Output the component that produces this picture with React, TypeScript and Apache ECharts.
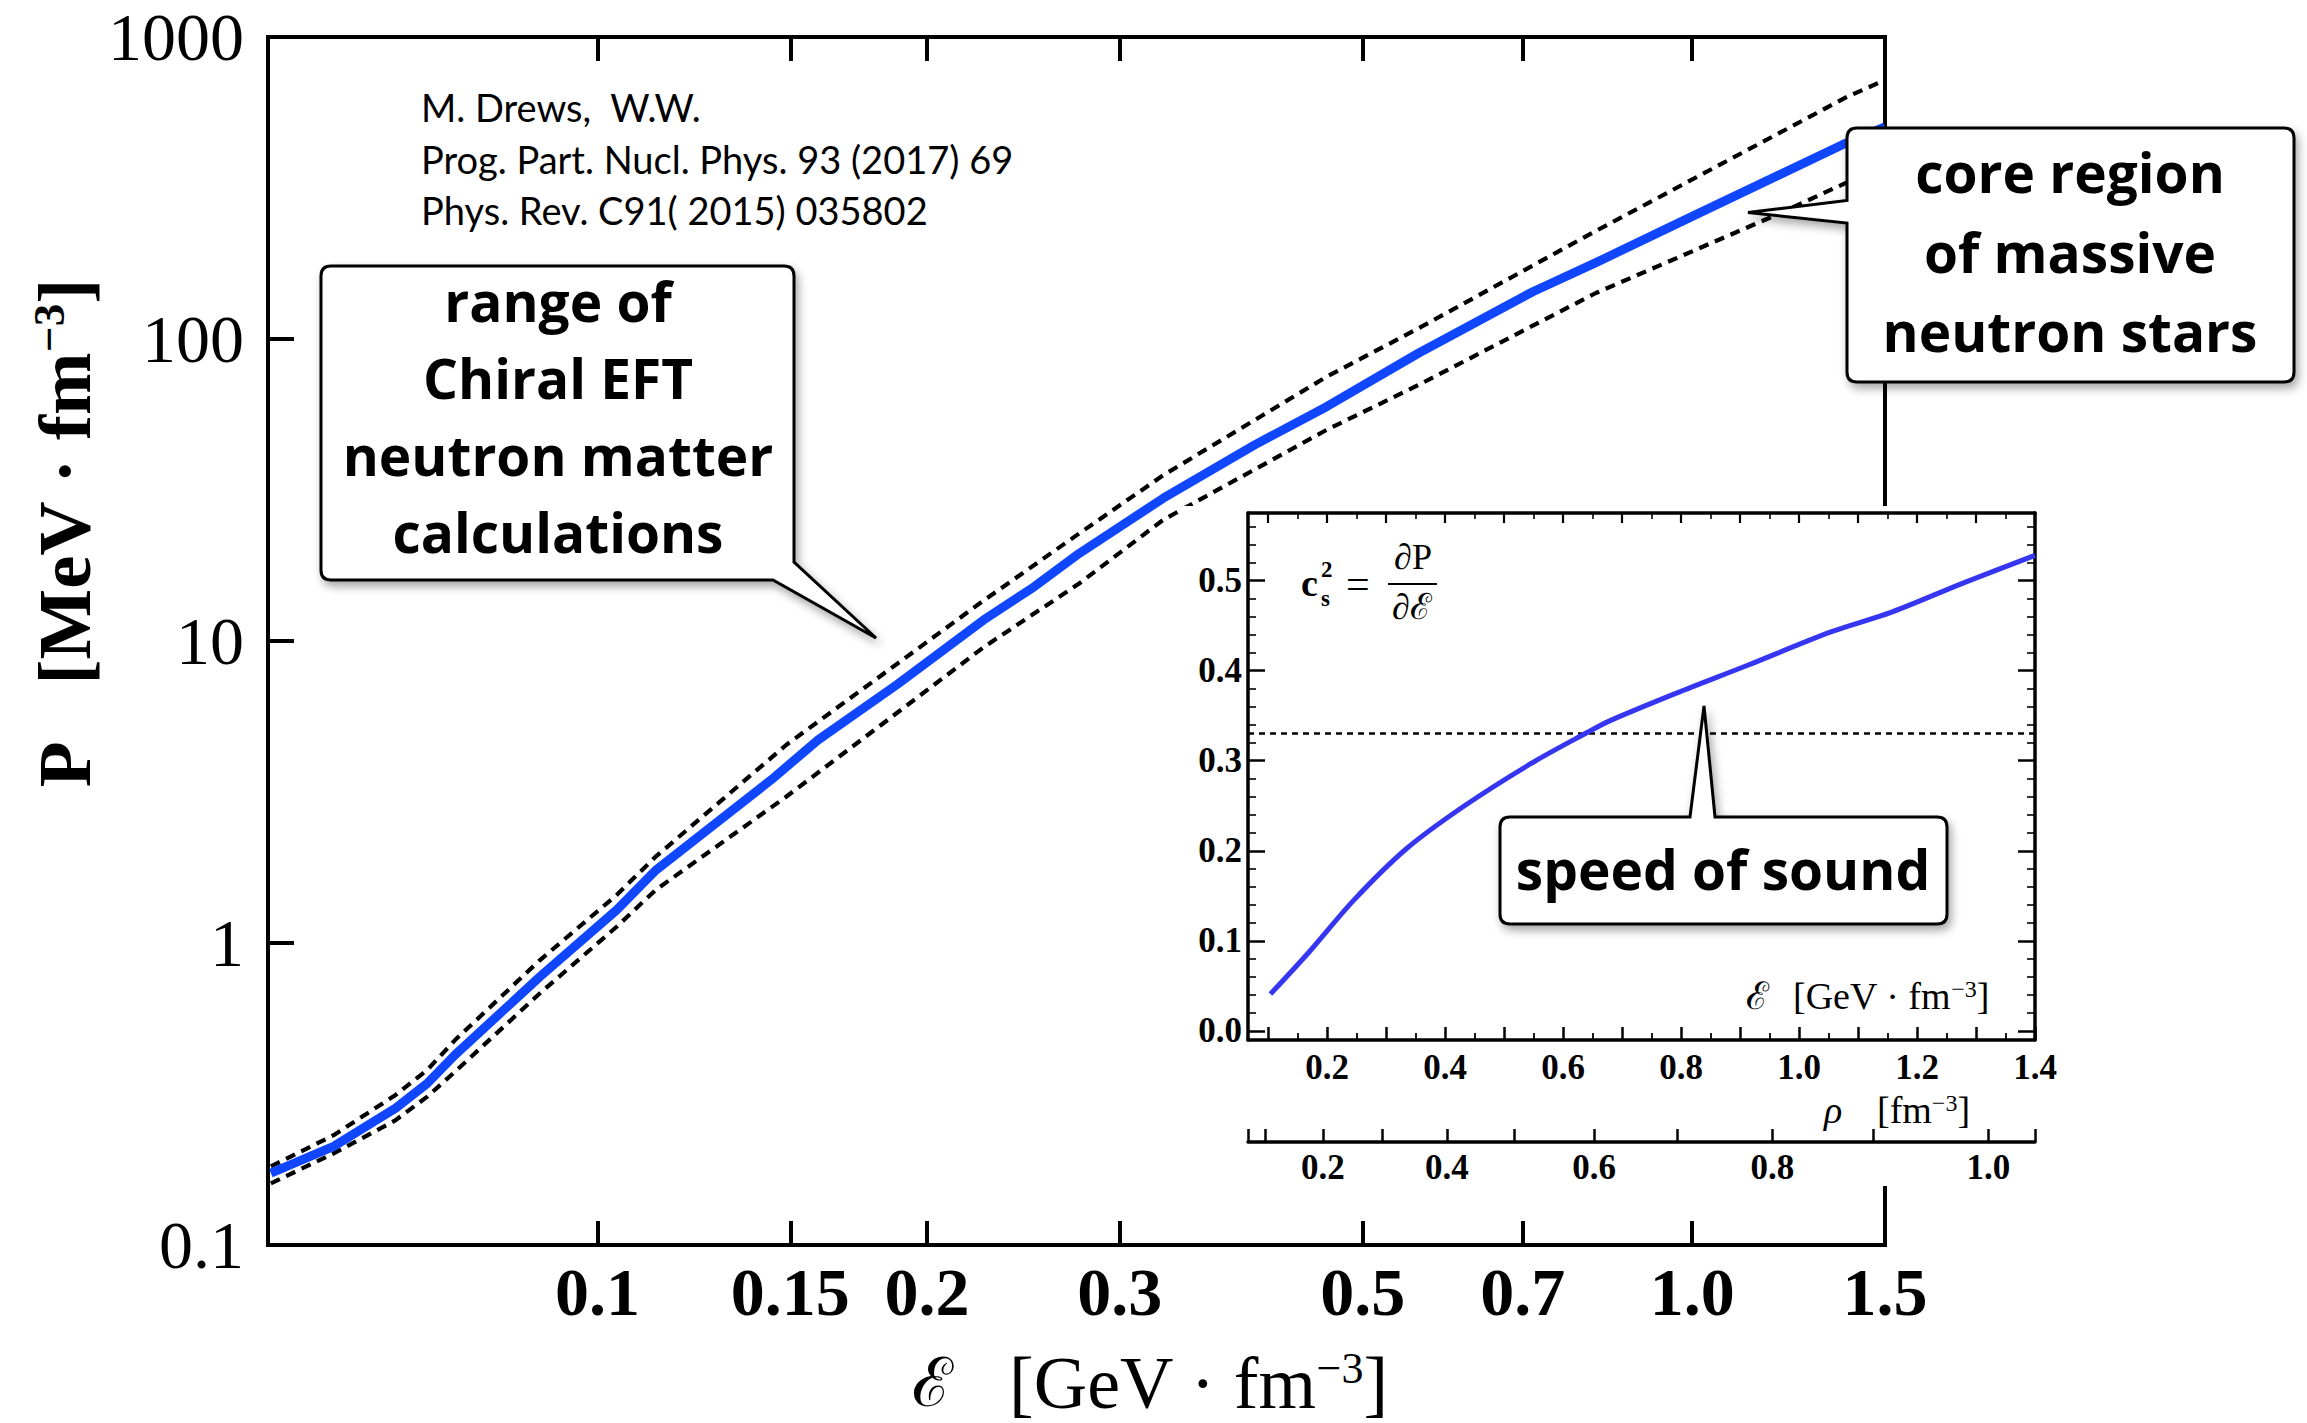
import React, { useEffect, useRef } from 'react';
import * as echarts from 'echarts';

// ---------------- data ----------------
// main panel: pressure P [MeV fm^-3] vs energy density E [GeV fm^-3]
const ENERGY_CENTRAL = [0.0503, 0.0574, 0.0654, 0.0699, 0.0741, 0.0886, 0.1041, 0.113, 0.1441, 0.159, 0.188, 0.2252, 0.2504, 0.2754, 0.3287, 0.3984, 0.4634, 0.5621, 0.7151, 0.8166, 1.0, 1.37, 1.5];
const PRESSURE_CENTRAL = [0.173, 0.212, 0.284, 0.343, 0.426, 0.774, 1.286, 1.74, 3.47, 4.7, 7.2, 11.73, 15.1, 19.5, 29.7, 44.6, 59.7, 89.7, 143.4, 179, 254.8, 439, 504];
const ENERGY_UPPER = [0.0503, 0.0574, 0.0654, 0.0699, 0.0741, 0.0886, 0.1041, 0.113, 0.1487, 0.2256, 0.2754, 0.3287, 0.4634, 0.5621, 0.8166, 1.386, 1.5];
const PRESSURE_UPPER = [0.182, 0.231, 0.314, 0.38, 0.477, 0.878, 1.442, 1.931, 4.525, 13.67, 22.7, 35.4, 75.0, 108.4, 228, 634.5, 720];
const ENERGY_LOWER = [0.0503, 0.0574, 0.0654, 0.0699, 0.0741, 0.0886, 0.1041, 0.113, 0.1487, 0.2256, 0.2754, 0.3287, 0.4634, 0.5621, 0.8166, 1.183, 1.5];
const PRESSURE_LOWER = [0.16, 0.201, 0.259, 0.31, 0.375, 0.682, 1.132, 1.498, 3.05, 9.57, 15.5, 25.2, 50.0, 70.4, 142, 254, 377];

// inset: speed of sound squared vs energy density
const INSET_ENERGY = [0.104, 0.17, 0.245, 0.334, 0.433, 0.546, 0.64, 0.678, 0.79, 0.913, 1.054, 1.157, 1.279, 1.4];
const INSET_CS2 = [0.041, 0.088, 0.145, 0.202, 0.25, 0.297, 0.331, 0.344, 0.3745, 0.406, 0.443, 0.465, 0.4975, 0.528];
const CONFORMAL_CS2 = 0.33;

// axes
const MAIN_X_RANGE = [0.05, 1.5];
const MAIN_Y_RANGE = [0.1, 1000];
const MAIN_X_TICKS = [0.1, 0.15, 0.2, 0.3, 0.5, 0.7, 1.0, 1.5];
const MAIN_X_TICK_LABELS = ['0.1', '0.15', '0.2', '0.3', '0.5', '0.7', '1.0', '1.5'];
const MAIN_Y_TICK_LABELS = ['0.1', '1', '10', '100', '1000'];

const INSET_X_RANGE = [0.066, 1.4];
const INSET_Y_RANGE = [-0.01, 0.575];
const INSET_X_MAJOR = [0.1, 0.2, 0.3, 0.4, 0.5, 0.6, 0.7, 0.8, 0.9, 1.0, 1.1, 1.2, 1.3, 1.4];
const INSET_X_MINOR = [0.15, 0.25, 0.35, 0.45, 0.55, 0.65, 0.75, 0.85, 0.95, 1.05, 1.15, 1.25, 1.35];
const INSET_X_LABELS = [0.2, 0.4, 0.6, 0.8, 1.0, 1.2, 1.4];
const INSET_Y_MAJOR = [0, 0.1, 0.2, 0.3, 0.4, 0.5];
const INSET_Y_MINOR = [0.02, 0.04, 0.06, 0.08, 0.12, 0.14, 0.16, 0.18, 0.22, 0.24, 0.26, 0.28, 0.32, 0.34, 0.36, 0.38, 0.42, 0.44, 0.46, 0.48, 0.52, 0.54, 0.56];

// density axis: rho [fm^-3] ticks and the energy density they sit at
const RHO_TICKS = [0.1, 0.2, 0.3, 0.4, 0.5, 0.6, 0.7, 0.8, 0.9, 1.0];
const RHO_TICK_ENERGY = [0.0949, 0.193, 0.2937, 0.4031, 0.517, 0.6528, 0.7928, 0.9549, 1.1256, 1.3209];
const RHO_LABELS = [0.2, 0.4, 0.6, 0.8, 1.0];

// ---------------- styles ----------------
const SERIF = "'Liberation Serif', 'DejaVu Serif', serif";
const SANS_BOLD = "'Open Sans', 'Noto Sans', 'DejaVu Sans', sans-serif";
const SANS = "Lato, 'Open Sans', sans-serif";

const CHIRAL_PATH = 'M 331 266 L 784 266 Q 794 266 794 276 L 794 562 L 876 638 L 773 580 L 331 580 Q 321 580 321 570 L 321 276 Q 321 266 331 266 Z';
const CORE_PATH = 'M 1857 128 L 2284 128 Q 2294 128 2294 138 L 2294 372 Q 2294 382 2284 382 L 1857 382 Q 1847 382 1847 372 L 1847 223 L 1748 212.5 L 1847 200.5 L 1847 138 Q 1847 128 1857 128 Z';
const SOUND_PATH = 'M 1510 817 L 1690 817 L 1704 706 L 1715 817 L 1937 817 Q 1947 817 1947 827 L 1947 914 Q 1947 924 1937 924 L 1510 924 Q 1500 924 1500 914 L 1500 827 Q 1500 817 1510 817 Z';

echarts.graphic.registerShape('calloutChiral', echarts.graphic.extendPath(CHIRAL_PATH, {}));
echarts.graphic.registerShape('calloutCore', echarts.graphic.extendPath(CORE_PATH, {}));
echarts.graphic.registerShape('calloutSound', echarts.graphic.extendPath(SOUND_PATH, {}));

const lg = (v: number) => Math.log10(v);
const zip = (a: number[], b: number[]) => a.map((x, i) => [x, b[i]]);

function mainTickAxis(position: 'bottom' | 'top', showLabels: boolean) {
  const vals = MAIN_X_TICKS.map(lg);
  return {
    type: 'value',
    gridIndex: 0,
    position,
    min: lg(MAIN_X_RANGE[0]),
    max: lg(MAIN_X_RANGE[1]),
    axisLine: { show: false, onZero: false },
    splitLine: { show: false },
    axisTick: { show: true, inside: true, length: 24, customValues: vals, lineStyle: { color: '#000', width: 4 } },
    axisLabel: showLabels
      ? {
          show: true,
          customValues: vals,
          margin: 13,
          color: '#000',
          fontFamily: SERIF,
          fontSize: 68,
          fontWeight: 'bold',
          formatter: (v: number) => {
            const i = vals.findIndex((t) => Math.abs(t - v) < 1e-9);
            return i >= 0 ? MAIN_X_TICK_LABELS[i] : '';
          },
        }
      : { show: false },
  };
}

function insetAxis(
  dim: 'x' | 'y',
  position: string,
  ticks: number[],
  tickLen: number,
  tickWidth: number,
  showLine: boolean,
  labels: number[] | null,
  gridIndex = 1,
  range = dim === 'x' ? INSET_X_RANGE : INSET_Y_RANGE,
  labelMargin = 8,
  formatter?: (v: number) => string,
) {
  return {
    type: 'value',
    gridIndex,
    position,
    min: range[0],
    max: range[1],
    z: 10,
    axisLine: { show: showLine, onZero: false, lineStyle: { color: '#000', width: 3.5 } },
    splitLine: { show: false },
    axisTick: { show: true, inside: true, length: tickLen, customValues: ticks, lineStyle: { color: '#000', width: tickWidth } },
    axisLabel: labels
      ? {
          show: true,
          customValues: labels,
          margin: labelMargin,
          color: '#000',
          fontFamily: SERIF,
          fontWeight: 'bold',
          fontSize: 35,
          formatter: formatter || ((v: number) => v.toFixed(1)),
        }
      : { show: false },
  };
}

function buildOption() {
  const rhoTickPositions = [INSET_X_RANGE[0], ...RHO_TICK_ENERGY, INSET_X_RANGE[1]];
  const rhoLabelPositions = RHO_LABELS.map((r) => RHO_TICK_ENERGY[RHO_TICKS.indexOf(r)]);
  const rhoFormatter = (v: number) => {
    const i = RHO_TICK_ENERGY.findIndex((e) => Math.abs(e - v) < 1e-9);
    return i >= 0 ? RHO_TICKS[i].toFixed(1) : '';
  };

  const calloutStyle = {
    fill: '#fff',
    stroke: '#000',
    lineWidth: 3,
    shadowBlur: 10,
    shadowOffsetX: 3,
    shadowOffsetY: 5,
    shadowColor: 'rgba(0,0,0,0.35)',
  };
  const calloutText = (x: number, y: number, text: string, lineHeight: number) => ({
    type: 'text',
    z: 31,
    x,
    y,
    silent: true,
    style: {
      text,
      fill: '#000',
      fontFamily: SANS_BOLD,
      fontWeight: 'bold',
      fontSize: 55,
      lineHeight,
      align: 'center',
      verticalAlign: 'middle',
    },
  });
  const plainText = (x: number, y: number, text: string, extra: any) => ({
    type: 'text',
    z: 30,
    x,
    y,
    silent: true,
    style: { text, fill: '#000', verticalAlign: 'middle', align: 'left', ...extra },
  });

  return {
    animation: false,
    backgroundColor: '#fff',
    grid: [
      { left: 268, top: 37, width: 1617, height: 1208, show: true, borderColor: '#000', borderWidth: 4, backgroundColor: 'transparent' },
      { left: 1248, top: 513, width: 787, height: 527 },
      { left: 1248, top: 1100, width: 787, height: 42 },
    ],
    xAxis: [
      { type: 'log', gridIndex: 0, position: 'bottom', min: MAIN_X_RANGE[0], max: MAIN_X_RANGE[1], show: false },
      mainTickAxis('bottom', true),
      mainTickAxis('top', false),
      insetAxis('x', 'bottom', INSET_X_MAJOR, 13, 2.5, true, INSET_X_LABELS, 1, INSET_X_RANGE, 10),
      insetAxis('x', 'bottom', INSET_X_MINOR, 7, 1.8, false, null),
      insetAxis('x', 'top', INSET_X_MAJOR, 10, 2.2, true, null),
      insetAxis('x', 'top', INSET_X_MINOR, 6, 1.6, false, null),
      insetAxis('x', 'bottom', rhoTickPositions, 13, 2.5, true, rhoLabelPositions, 2, INSET_X_RANGE, 8, rhoFormatter),
    ],
    yAxis: [
      {
        type: 'log',
        gridIndex: 0,
        position: 'left',
        min: MAIN_Y_RANGE[0],
        max: MAIN_Y_RANGE[1],
        axisLine: { show: false, onZero: false },
        splitLine: { show: false },
        minorTick: { show: false },
        axisTick: { show: true, inside: true, length: 26, lineStyle: { color: '#000', width: 4 } },
        axisLabel: {
          margin: 24,
          color: '#000',
          fontFamily: SERIF,
          fontSize: 68,
          formatter: (v: number) => MAIN_Y_TICK_LABELS[Math.round(Math.log10(v)) + 1] ?? '',
        },
      },
      insetAxis('y', 'left', INSET_Y_MAJOR, 17, 2.5, true, INSET_Y_MAJOR, 1, INSET_Y_RANGE, 6),
      insetAxis('y', 'left', INSET_Y_MINOR, 8, 1.6, false, null),
      insetAxis('y', 'right', INSET_Y_MAJOR, 17, 2.5, true, null),
      insetAxis('y', 'right', INSET_Y_MINOR, 8, 1.6, false, null),
      { type: 'value', gridIndex: 2, min: 0, max: 1, show: false },
    ],
    series: [
      {
        name: 'upper bound',
        type: 'line',
        xAxisIndex: 0,
        yAxisIndex: 0,
        data: zip(ENERGY_UPPER, PRESSURE_UPPER),
        showSymbol: false,
        silent: true,
        z: 2,
        lineStyle: { color: '#000', width: 4.2, type: [10, 7] },
      },
      {
        name: 'lower bound',
        type: 'line',
        xAxisIndex: 0,
        yAxisIndex: 0,
        data: zip(ENERGY_LOWER, PRESSURE_LOWER),
        showSymbol: false,
        silent: true,
        z: 2,
        lineStyle: { color: '#000', width: 4.2, type: [10, 7] },
      },
      {
        name: 'EoS',
        type: 'line',
        xAxisIndex: 0,
        yAxisIndex: 0,
        data: zip(ENERGY_CENTRAL, PRESSURE_CENTRAL),
        showSymbol: false,
        silent: true,
        z: 3,
        lineStyle: { color: '#1146ff', width: 9, join: 'round' },
      },
      {
        name: 'cs2',
        type: 'line',
        xAxisIndex: 3,
        yAxisIndex: 1,
        data: zip(INSET_ENERGY, INSET_CS2),
        showSymbol: false,
        silent: true,
        smooth: 0.3,
        z: 12,
        lineStyle: { color: '#3636f2', width: 5 },
        markLine: {
          silent: true,
          symbol: ['none', 'none'],
          label: { show: false },
          lineStyle: { color: '#000', width: 2.5, type: [6, 5] },
          data: [{ yAxis: CONFORMAL_CS2 }],
        },
      },
    ],
    graphic: {
      elements: [
        // white backing of the inset (covers main panel below it)
        { type: 'rect', z: 5, silent: true, shape: { x: 1183, y: 506, width: 870, height: 680 }, style: { fill: '#fff' } },

        // citation
        plainText(421, 107, 'M. Drews,  W.W.', { fontFamily: SANS, fontSize: 38 }),
        plainText(421, 159, 'Prog. Part. Nucl. Phys. 93 (2017) 69', { fontFamily: SANS, fontSize: 38 }),
        plainText(421, 210, 'Phys. Rev. C91( 2015) 035802', { fontFamily: SANS, fontSize: 38 }),

        // main axis titles
        {
          type: 'text',
          z: 30,
          x: 1150,
          y: 1383,
          silent: true,
          style: {
            text: '{e|ℰ}{n|   [GeV · fm}{s|−3}{n|]}',
            align: 'center',
            verticalAlign: 'middle',
            fill: '#000',
            rich: {
              e: { fontFamily: SERIF, fontSize: 68, fill: '#000' },
              n: { fontFamily: SERIF, fontSize: 74, fill: '#000' },
              s: { fontFamily: SERIF, fontSize: 44, fill: '#000', verticalAlign: 'top' },
            },
          },
        },
        {
          type: 'text',
          z: 30,
          x: 64,
          y: 533,
          rotation: Math.PI / 2,
          silent: true,
          style: {
            text: '{b|P}{n|   [MeV · fm}{s|−3}{n|]}',
            align: 'center',
            verticalAlign: 'middle',
            fill: '#000',
            rich: {
              b: { fontFamily: SERIF, fontSize: 75, fontWeight: 'bold', fill: '#000' },
              n: { fontFamily: SERIF, fontSize: 75, fontWeight: 'bold', fill: '#000' },
              s: { fontFamily: SERIF, fontSize: 45, fontWeight: 'bold', fill: '#000', verticalAlign: 'top' },
            },
          },
        },

        // inset labels
        plainText(1301, 583, 'c', { fontFamily: SERIF, fontSize: 38, fontWeight: 'bold' }),
        plainText(1321, 569, '2', { fontFamily: SERIF, fontSize: 23, fontWeight: 'bold' }),
        plainText(1321, 598, 's', { fontFamily: SERIF, fontSize: 23, fontWeight: 'bold' }),
        plainText(1346, 584, '=', { fontFamily: SERIF, fontSize: 42 }),
        plainText(1413, 557, '∂P', { fontFamily: SERIF, fontSize: 36, align: 'center' }),
        { type: 'line', z: 30, silent: true, shape: { x1: 1388, y1: 584, x2: 1437, y2: 584 }, style: { stroke: '#000', lineWidth: 2 } },
        plainText(1412, 607, '∂ℰ', { fontFamily: SERIF, fontSize: 36, align: 'center' }),

        plainText(1746, 996, 'ℰ', { fontFamily: SERIF, fontSize: 38 }),
        {
          type: 'text',
          z: 30,
          x: 1793,
          y: 996,
          silent: true,
          style: {
            text: '{n|[GeV · fm}{s|−3}{n|]}',
            align: 'left',
            verticalAlign: 'middle',
            fill: '#000',
            rich: {
              n: { fontFamily: SERIF, fontSize: 38, fill: '#000' },
              s: { fontFamily: SERIF, fontSize: 24, fill: '#000', verticalAlign: 'top' },
            },
          },
        },
        plainText(1824, 1110, 'ρ', { fontFamily: SERIF, fontSize: 38, fontStyle: 'italic' }),
        {
          type: 'text',
          z: 30,
          x: 1877,
          y: 1110,
          silent: true,
          style: {
            text: '{n|[fm}{s|−3}{n|]}',
            align: 'left',
            verticalAlign: 'middle',
            fill: '#000',
            rich: {
              n: { fontFamily: SERIF, fontSize: 38, fill: '#000' },
              s: { fontFamily: SERIF, fontSize: 24, fill: '#000', verticalAlign: 'top' },
            },
          },
        },

        // callouts
        { type: 'calloutChiral', z: 30, x: 0, y: 0, scaleX: 1, scaleY: 1, silent: true, style: calloutStyle },
        calloutText(558, 416, 'range of\nChiral EFT\nneutron matter\ncalculations', 76.7),
        { type: 'calloutCore', z: 30, x: 0, y: 0, scaleX: 1, scaleY: 1, silent: true, style: calloutStyle },
        calloutText(2070, 251, 'core region\nof massive\nneutron stars', 79.5),
        { type: 'calloutSound', z: 30, x: 0, y: 0, scaleX: 1, scaleY: 1, silent: true, style: calloutStyle },
        calloutText(1723, 868, 'speed of sound', 70),
      ],
    },
  };
}

export default function App() {
  const ref = useRef<HTMLDivElement>(null);
  useEffect(() => {
    document.body.style.margin = '0';
    if (!ref.current) return;
    const chart = echarts.init(ref.current, undefined, { renderer: 'svg', width: 2307, height: 1423 });
    chart.setOption(buildOption() as any);
    return () => chart.dispose();
  }, []);
  return <div ref={ref} style={{ width: 2307, height: 1423 }} />;
}
